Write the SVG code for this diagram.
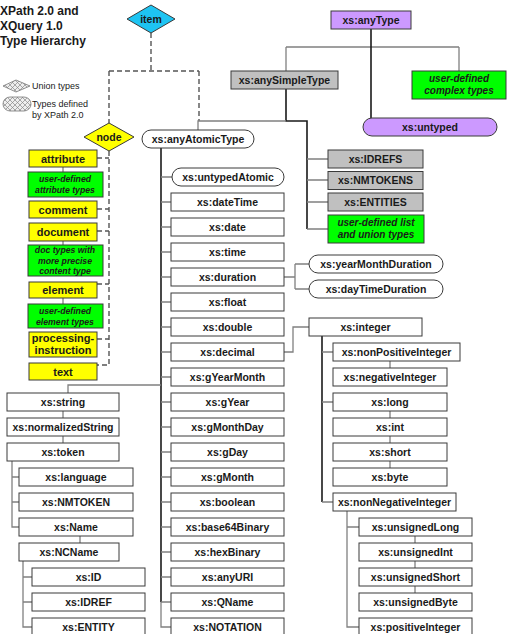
<svg xmlns="http://www.w3.org/2000/svg" width="507" height="634" viewBox="0 0 507 634">
<defs>
<pattern id="hatch" width="5" height="5" patternUnits="userSpaceOnUse">
<rect width="5" height="5" fill="#eee"/>
<path d="M0,0 L5,5 M5,0 L0,5" stroke="#888" stroke-width="0.7"/>
</pattern>
</defs>
<style>
.b{fill:#fff;stroke:#3a3a3a;stroke-width:1}
.gy{fill:#c0c0c0}
.pu{fill:#cc99ff}
.ye{fill:#ffff00}
.gr{fill:#00ff00}
.cy{fill:#1ec4f2}
text{font-family:"Liberation Sans",Arial,sans-serif;fill:#1a1a1a}
.l{font-size:10.5px;font-weight:bold;text-anchor:middle}
.y{font-size:11px;font-weight:bold;text-anchor:middle}
.i{font-size:10px;font-weight:bold;font-style:italic;text-anchor:middle}
.is{font-size:8.7px;font-weight:bold;font-style:italic;text-anchor:middle}
.t{font-size:12px;font-weight:bold}
.g{font-size:9px}
.c{stroke:#808080;stroke-width:1.3;fill:none}
.k{stroke:#1a1a1a;stroke-width:1.6;fill:none}
.d{stroke:#555;stroke-width:1.4;stroke-dasharray:5,3;fill:none}
</style>

<g id="title">
<text class="t" x="0" y="15">XPath 2.0 and</text>
<text class="t" x="0" y="30">XQuery 1.0</text>
<text class="t" x="0" y="45">Type Hierarchy</text>
</g>
<g id="legend">
<polygon points="3,86 16,80 30,86 16,92" fill="url(#hatch)" stroke="#777" stroke-width="0.8"/>
<text class="g" x="32" y="89">Union types</text>
<rect x="3" y="97" width="28" height="14" rx="7" fill="url(#hatch)" stroke="#777" stroke-width="0.8"/>
<text class="g" x="32" y="107">Types defined</text>
<text class="g" x="32" y="118">by XPath 2.0</text>
</g>

<g id="connectors">
<!-- item dashed -->
<path class="d" d="M151,33 V71 M109,71 H199 M109,71 V123 M199,71 V121"/>
<!-- node dashed -->
<path class="d" d="M109,151 V365 H97 M97,158 H109 M97,209 H109 M97,231 H109 M97,284 H109 M97,339 H109"/>
<!-- node list subtypes -->
<path class="c" d="M63,167 V172 M63,241 V245 M63,298 V304"/>
<!-- anyType -->
<path class="c" d="M286,47 H459 M286,47 V71 M459,47 V71"/>
<path class="k" d="M371,29 V118"/>
<!-- anySimpleType -->
<path class="k" d="M286,89 V121 H307 V229"/>
<path class="c" d="M286,121 H198 V130"/>
<path class="c" d="M307,159 H328 M307,180 H328 M307,202 H328 M307,229 H328"/>
<!-- anyAtomicType trunk -->
<path class="k" d="M161,148 V602"/>
<path class="c" d="M161,602 V627 H171 M161,177 H172 M161,202 H171 M161,227 H171 M161,252 H171 M161,277 H171 M161,302 H171 M161,327 H171 M161,352 H171 M161,377 H171 M161,402 H171 M161,427 H171 M161,452 H171 M161,477 H171 M161,502 H171 M161,527 H171 M161,552 H171 M161,577 H171 M161,602 H171"/>
<!-- string branch -->
<path class="c" d="M161,385 H68 V393 M63,411 V418 M63,436 V443"/>
<path class="c" d="M12,461 V527 H19 M12,477 H19 M12,502 H19 M80,536 V543"/>
<path class="c" d="M23,561 V627 H32 M23,577 H32 M23,602 H32"/>
<!-- duration -->
<path class="c" d="M284,277 H295 M295,264 V289 M295,264 H309 M295,289 H309"/>
<!-- decimal -->
<path class="c" d="M284,352 H293 V327 H309"/>
<path class="k" d="M322,336 V502"/>
<path class="c" d="M322,352 H333 M322,402 H333 M322,502 H333 M390,361 V368 M390,411 V418 M390,436 V443 M390,461 V468"/>
<path class="c" d="M347,511 V627 H359 M347,527 H359 M415,536 V543 M415,561 V568 M415,586 V593"/>
</g>

<g id="item"><polygon class="b cy" points="151,5 175,19 151,33 127,19"/><text class="l" x="151" y="23">item</text></g>
<g id="node"><polygon class="b ye" points="109,123 134,137 109,151 84,137"/><text class="l" x="109" y="141">node</text></g>

<g id="attribute"><rect class="b ye" x="29" y="150" width="68" height="17"/><text class="y" x="63" y="162.5">attribute</text></g>
<g id="ud-attribute"><rect class="b gr" x="28" y="172" width="75" height="25"/><text class="is" x="65" y="181.5">user-defined</text><text class="is" x="65" y="192.5">attribute types</text></g>
<g id="comment"><rect class="b ye" x="29" y="201" width="68" height="17"/><text class="y" x="63" y="213.5">comment</text></g>
<g id="document"><rect class="b ye" x="29" y="223" width="68" height="18"/><text class="y" x="63" y="236">document</text></g>
<g id="doc-types"><rect class="b gr" x="28" y="245" width="75" height="31"/><text class="is" x="65" y="252.5">doc types with</text><text class="is" x="65" y="263.5">more precise</text><text class="is" x="65" y="274">content type</text></g>
<g id="element"><rect class="b ye" x="29" y="282" width="68" height="16"/><text class="y" x="63" y="294">element</text></g>
<g id="ud-element"><rect class="b gr" x="28" y="304" width="75" height="24"/><text class="is" x="65" y="314">user-defined</text><text class="is" x="65" y="324.5">element types</text></g>
<g id="pi"><rect class="b ye" x="29" y="332" width="68" height="25"/><text class="y" x="63" y="342">processing-</text><text class="y" x="63" y="354">instruction</text></g>
<g id="text"><rect class="b ye" x="29" y="363" width="68" height="17"/><text class="y" x="63" y="375.5">text</text></g>

<g id="anyType"><rect class="b pu" x="331" y="11" width="80" height="18"/><text class="l" x="371" y="23.7">xs:anyType</text></g>
<g id="anySimpleType"><rect class="b gy" x="231" y="71" width="107" height="18"/><text class="l" x="284.5" y="83.7">xs:anySimpleType</text></g>
<g id="complex"><rect class="b gr" x="412" y="71" width="94" height="28"/><text class="i" x="459" y="81.5">user-defined</text><text class="i" x="459" y="94">complex types</text></g>
<g id="untyped"><rect class="b pu" x="363" y="118" width="134" height="18" rx="9"/><text class="l" x="430" y="130.7">xs:untyped</text></g>
<g id="anyAtomicType"><rect class="b" x="142" y="130" width="112" height="18" rx="9"/><text class="l" x="198" y="142.7">xs:anyAtomicType</text></g>

<g id="IDREFS"><rect class="b gy" x="328" y="150" width="95" height="18"/><text class="l" x="375.5" y="162.7">xs:IDREFS</text></g>
<g id="NMTOKENS"><rect class="b gy" x="328" y="171.5" width="95" height="18"/><text class="l" x="375.5" y="184.2">xs:NMTOKENS</text></g>
<g id="ENTITIES"><rect class="b gy" x="328" y="193" width="95" height="18"/><text class="l" x="375.5" y="205.7">xs:ENTITIES</text></g>
<g id="ud-list"><rect class="b gr" x="328" y="215" width="96" height="28"/><text class="i" x="376" y="225.5">user-defined list</text><text class="i" x="376" y="238">and union types</text></g>

<g id="untypedAtomic"><rect class="b" x="172" y="168" width="112" height="18" rx="9"/><text class="l" x="228" y="180.7">xs:untypedAtomic</text></g>
<g id="dateTime"><rect class="b" x="171" y="193" width="113" height="18"/><text class="l" x="227.5" y="205.7">xs:dateTime</text></g>
<g id="date"><rect class="b" x="171" y="218" width="113" height="18"/><text class="l" x="227.5" y="230.7">xs:date</text></g>
<g id="time"><rect class="b" x="171" y="243" width="113" height="18"/><text class="l" x="227.5" y="255.7">xs:time</text></g>
<g id="duration"><rect class="b" x="171" y="268" width="113" height="18"/><text class="l" x="227.5" y="280.7">xs:duration</text></g>
<g id="float"><rect class="b" x="171" y="293" width="113" height="18"/><text class="l" x="227.5" y="305.7">xs:float</text></g>
<g id="double"><rect class="b" x="171" y="318" width="113" height="18"/><text class="l" x="227.5" y="330.7">xs:double</text></g>
<g id="decimal"><rect class="b" x="171" y="343" width="113" height="18"/><text class="l" x="227.5" y="355.7">xs:decimal</text></g>
<g id="gYearMonth"><rect class="b" x="171" y="368" width="113" height="18"/><text class="l" x="227.5" y="380.7">xs:gYearMonth</text></g>
<g id="gYear"><rect class="b" x="171" y="393" width="113" height="18"/><text class="l" x="227.5" y="405.7">xs:gYear</text></g>
<g id="gMonthDay"><rect class="b" x="171" y="418" width="113" height="18"/><text class="l" x="227.5" y="430.7">xs:gMonthDay</text></g>
<g id="gDay"><rect class="b" x="171" y="443" width="113" height="18"/><text class="l" x="227.5" y="455.7">xs:gDay</text></g>
<g id="gMonth"><rect class="b" x="171" y="468" width="113" height="18"/><text class="l" x="227.5" y="480.7">xs:gMonth</text></g>
<g id="boolean"><rect class="b" x="171" y="493" width="113" height="18"/><text class="l" x="227.5" y="505.7">xs:boolean</text></g>
<g id="base64Binary"><rect class="b" x="171" y="518" width="113" height="18"/><text class="l" x="227.5" y="530.7">xs:base64Binary</text></g>
<g id="hexBinary"><rect class="b" x="171" y="543" width="113" height="18"/><text class="l" x="227.5" y="555.7">xs:hexBinary</text></g>
<g id="anyURI"><rect class="b" x="171" y="568" width="113" height="18"/><text class="l" x="227.5" y="580.7">xs:anyURI</text></g>
<g id="QName"><rect class="b" x="171" y="593" width="113" height="18"/><text class="l" x="227.5" y="605.7">xs:QName</text></g>
<g id="NOTATION"><rect class="b" x="171" y="618" width="113" height="18"/><text class="l" x="227.5" y="630.7">xs:NOTATION</text></g>

<g id="yearMonthDuration"><rect class="b" x="309" y="255" width="134" height="18" rx="9"/><text class="l" x="376" y="267.7">xs:yearMonthDuration</text></g>
<g id="dayTimeDuration"><rect class="b" x="309" y="280" width="134" height="18" rx="9"/><text class="l" x="376" y="292.7">xs:dayTimeDuration</text></g>

<g id="integer"><rect class="b" x="309" y="318" width="113" height="18"/><text class="l" x="365.5" y="330.7">xs:integer</text></g>
<g id="nonPositiveInteger"><rect class="b" x="333" y="343" width="127" height="18"/><text class="l" x="396.5" y="355.7">xs:nonPositiveInteger</text></g>
<g id="negativeInteger"><rect class="b" x="333" y="368" width="114" height="18"/><text class="l" x="390" y="380.7">xs:negativeInteger</text></g>
<g id="long"><rect class="b" x="333" y="393" width="114" height="18"/><text class="l" x="390" y="405.7">xs:long</text></g>
<g id="int"><rect class="b" x="333" y="418" width="114" height="18"/><text class="l" x="390" y="430.7">xs:int</text></g>
<g id="short"><rect class="b" x="333" y="443" width="114" height="18"/><text class="l" x="390" y="455.7">xs:short</text></g>
<g id="byte"><rect class="b" x="333" y="468" width="114" height="18"/><text class="l" x="390" y="480.7">xs:byte</text></g>
<g id="nonNegativeInteger"><rect class="b" x="333" y="493" width="123" height="18"/><text class="l" x="394.5" y="505.7">xs:nonNegativeInteger</text></g>
<g id="unsignedLong"><rect class="b" x="359" y="518" width="113" height="18"/><text class="l" x="415.5" y="530.7">xs:unsignedLong</text></g>
<g id="unsignedInt"><rect class="b" x="359" y="543" width="113" height="18"/><text class="l" x="415.5" y="555.7">xs:unsignedInt</text></g>
<g id="unsignedShort"><rect class="b" x="359" y="568" width="113" height="18"/><text class="l" x="415.5" y="580.7">xs:unsignedShort</text></g>
<g id="unsignedByte"><rect class="b" x="359" y="593" width="113" height="18"/><text class="l" x="415.5" y="605.7">xs:unsignedByte</text></g>
<g id="positiveInteger"><rect class="b" x="359" y="618" width="113" height="18"/><text class="l" x="415.5" y="630.7">xs:positiveInteger</text></g>

<g id="string"><rect class="b" x="7" y="393" width="112" height="18"/><text class="l" x="63" y="405.7">xs:string</text></g>
<g id="normalizedString"><rect class="b" x="7" y="418" width="112" height="18"/><text class="l" x="63" y="430.7">xs:normalizedString</text></g>
<g id="token"><rect class="b" x="7" y="443" width="112" height="18"/><text class="l" x="63" y="455.7">xs:token</text></g>
<g id="language"><rect class="b" x="19" y="468" width="114" height="18"/><text class="l" x="76" y="480.7">xs:language</text></g>
<g id="NMTOKEN"><rect class="b" x="19" y="493" width="114" height="18"/><text class="l" x="76" y="505.7">xs:NMTOKEN</text></g>
<g id="Name"><rect class="b" x="19" y="518" width="114" height="18"/><text class="l" x="76" y="530.7">xs:Name</text></g>
<g id="NCName"><rect class="b" x="19" y="543" width="100" height="18"/><text class="l" x="69" y="555.7">xs:NCName</text></g>
<g id="ID"><rect class="b" x="32" y="568" width="113" height="18"/><text class="l" x="88.5" y="580.7">xs:ID</text></g>
<g id="IDREF"><rect class="b" x="32" y="593" width="113" height="18"/><text class="l" x="88.5" y="605.7">xs:IDREF</text></g>
<g id="ENTITY"><rect class="b" x="32" y="618" width="113" height="18"/><text class="l" x="88.5" y="630.7">xs:ENTITY</text></g>
</svg>
